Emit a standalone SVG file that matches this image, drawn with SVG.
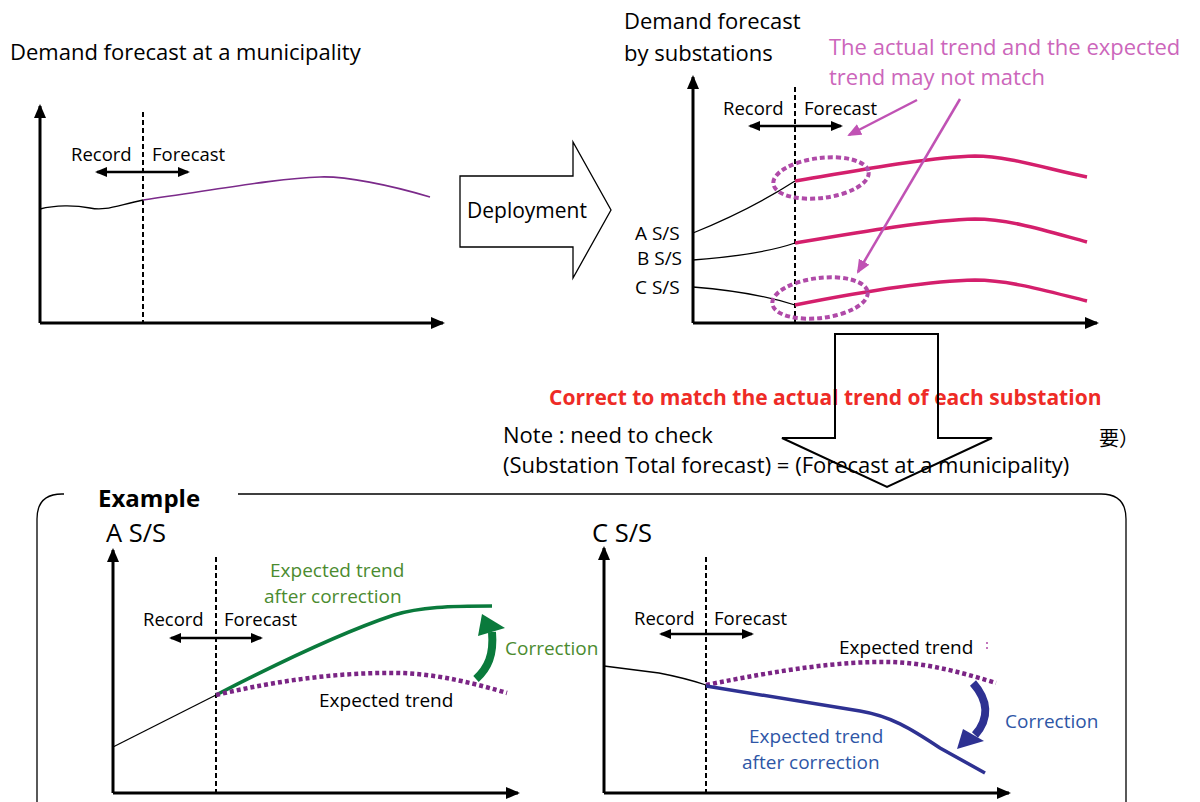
<svg xmlns="http://www.w3.org/2000/svg" width="1200" height="802" viewBox="0 0 1200 802">
<defs>
<marker id="ax" viewBox="0 0 14 12" refX="12" refY="6" markerWidth="14" markerHeight="12" markerUnits="userSpaceOnUse" orient="auto-start-reverse"><path d="M0,0 L14,6 L0,12 z" fill="#000"/></marker>
<marker id="da" viewBox="0 0 12 10" refX="10" refY="5" markerWidth="12" markerHeight="10" markerUnits="userSpaceOnUse" orient="auto-start-reverse"><path d="M0,0 L12,5 L0,10 z" fill="#000"/></marker>
<marker id="pa" viewBox="0 0 14 12" refX="12" refY="6" markerWidth="14" markerHeight="12" markerUnits="userSpaceOnUse" orient="auto"><path d="M0,0 L14,6 L0,12 z" fill="#c052b4"/></marker>
</defs>
<style>
text{font-family:"Open Sans","Liberation Sans","Noto Sans CJK JP",sans-serif;fill:#000}
.t22{font-size:22px}
.t18{font-size:18.5px}
.t19{font-size:19px}
.big{font-size:25.5px}
.axis{stroke:#000;stroke-width:3;fill:none;marker-end:url(#ax)}
.dash{stroke:#000;stroke-width:2;stroke-dasharray:5 3;fill:none}
.dbl{stroke:#000;stroke-width:2.5;fill:none;marker-start:url(#da);marker-end:url(#da)}
.rec{stroke:#000;stroke-width:1.3;fill:none}
.pink{stroke:#d41f6c;stroke-width:3.5;fill:none}
.ell{stroke:#b04aa8;stroke-width:4;stroke-dasharray:5 3;fill:none}
.pl{stroke:#c052b4;stroke-width:2.5;fill:none;marker-end:url(#pa)}
.dot{stroke:#7b2585;stroke-width:4.5;stroke-dasharray:4 3;fill:none}
.pinktxt{fill:#cc66bb}
.green{fill:#4b8b2f}
.blue{fill:#2e56a6}
</style>

<g id="chart-municipality">
<text class="t22" x="10" y="60">Demand forecast at a municipality</text>
<line class="axis" x1="40" y1="323" x2="40" y2="106"/>
<line class="axis" x1="40" y1="323" x2="443" y2="323"/>
<line class="dash" x1="143" y1="112" x2="143" y2="323"/>
<text class="t18" x="71" y="161">Record</text>
<text class="t18" x="152" y="161">Forecast</text>
<line class="dbl" x1="97" y1="172" x2="188" y2="172"/>
<path class="rec" d="M40,209 C55,205 75,205 90,208 C105,211 115,206 143,200"/>
<path d="M143,200 C220,189 280,178 320,177 C345,176 390,185 430,197" stroke="#7b2a8a" stroke-width="1.6" fill="none"/>
</g>

<g id="deployment">
<polygon points="460,176 573,176 573,142 611,210 573,278 573,247 460,247" fill="#fff" stroke="#000" stroke-width="1.3"/>
<text x="467" y="218" style="font-size:21px">Deployment</text>
</g>

<g id="chart-substations">
<text class="t22" x="624" y="29">Demand forecast</text>
<text class="t22" x="624" y="61">by substations</text>
<line class="axis" x1="693" y1="323" x2="693" y2="77"/>
<line class="axis" x1="693" y1="323" x2="1097" y2="323"/>
<line class="dash" x1="795" y1="87" x2="795" y2="323"/>
<text class="t18" x="723" y="115">Record</text>
<text class="t18" x="804" y="115">Forecast</text>
<line class="dbl" x1="750" y1="126" x2="841" y2="126"/>
<text class="t19" x="635" y="240">A S/S</text>
<text class="t19" x="637" y="265">B S/S</text>
<text class="t19" x="635" y="294">C S/S</text>
<path class="rec" d="M693,233 Q750,210 795,181"/>
<path class="rec" d="M693,260 Q760,255 795,243"/>
<path class="rec" d="M693,287 Q755,292 795,305"/>
<path class="pink" d="M795,181 C860,170 930,157 975,156 C1010,156 1050,170 1087,177"/>
<path class="pink" d="M795,243 C860,232 930,220 975,219 C1010,219 1050,232 1087,242"/>
<path class="pink" d="M795,305 C860,292 930,281 975,280 C1010,280 1050,292 1087,301"/>
<ellipse class="ell" cx="821" cy="178" rx="48" ry="20" transform="rotate(-7 821 178)"/>
<ellipse class="ell" cx="820" cy="298" rx="48" ry="20" transform="rotate(-7 820 298)"/>
</g>

<g id="mismatch-note">
<text class="t22 pinktxt" x="829" y="55">The actual trend and the expected</text>
<text class="t22 pinktxt" x="829" y="85">trend may not match</text>
<line class="pl" x1="917" y1="100" x2="849" y2="135"/>
<line class="pl" x1="960" y1="99" x2="858" y2="272"/>
</g>

<g id="correction-step">
<text x="549" y="405" style="font-size:21px;font-weight:bold;fill:#ee2b26">Correct to match the actual trend of each substation</text>
<text class="t22" x="503" y="443">Note : need to check</text>
<text x="1099" y="446" style="font-size:20px">要）</text>
<text class="t22" x="503" y="473">(Substation Total forecast) = (Forecast at a municipality)</text>
<polygon points="835,334 938,334 938,438 992,438 887,487 782,438 835,438" fill="none" stroke="#000" stroke-width="2"/>
</g>

<g id="example-box">
<path d="M64,494 L62,494 Q37,494 37,519 L37,818" fill="none" stroke="#000" stroke-width="1.3"/>
<path d="M238,494 L1101,494 Q1126,494 1126,519 L1126,818" fill="none" stroke="#000" stroke-width="1.3"/>
<text x="98" y="507" style="font-size:24px;font-weight:bold">Example</text>
</g>

<g id="example-a">
<text class="big" x="106" y="542">A S/S</text>
<line class="axis" x1="113" y1="793" x2="113" y2="550"/>
<line class="axis" x1="113" y1="793" x2="518" y2="793"/>
<line class="dash" x1="216" y1="557" x2="216" y2="793"/>
<text class="t18" x="143" y="626">Record</text>
<text class="t18" x="224" y="626">Forecast</text>
<line class="dbl" x1="171" y1="638" x2="261" y2="638"/>
<path class="rec" d="M113,747 Q170,718 216,695"/>
<path d="M216,695 C280,662 340,633 394,615 C420,607 450,606 492,606" stroke="#0a7a3c" stroke-width="3.5" fill="none"/>
<path class="dot" d="M216,695 C280,680 340,672 400,673 C440,674 480,685 507,693"/>
<text class="t19 green" x="270" y="577">Expected trend</text>
<text class="t19 green" x="264" y="603">after correction</text>
<text class="t19" x="319" y="707">Expected trend</text>
<text class="t19 green" x="505" y="655">Correction</text>
<path d="M476,679 C488,668 494,655 492,632" stroke="#0a7a3c" stroke-width="8" fill="none"/>
<polygon points="482,614 505,628 478,636" fill="#0a7a3c"/>
</g>

<g id="example-c">
<text class="big" x="592" y="542">C S/S</text>
<line class="axis" x1="604" y1="793" x2="604" y2="548"/>
<line class="axis" x1="604" y1="793" x2="1009" y2="793"/>
<line class="dash" x1="706" y1="557" x2="706" y2="793"/>
<text class="t18" x="634" y="625">Record</text>
<text class="t18" x="714" y="625">Forecast</text>
<line class="dbl" x1="661" y1="634" x2="752" y2="634"/>
<path class="rec" d="M604,666 L659,673 Q685,678 706,685"/>
<path class="dot" d="M706,685 C780,670 840,661 891,662 C930,663 970,675 996,683"/>
<path d="M706,686 L860,711 C890,716 910,728 940,748 L985,773" stroke="#2e3192" stroke-width="3.5" fill="none"/>
<text class="t19" x="839" y="654">Expected trend</text>
<line x1="987" y1="642" x2="987" y2="650" stroke="#b04aa8" stroke-width="1.5" stroke-dasharray="2 3"/>
<text class="t19 blue" x="749" y="743">Expected trend</text>
<text class="t19 blue" x="742" y="769">after correction</text>
<text class="t19 blue" x="1005" y="728">Correction</text>
<path d="M973,683 C988,700 990,718 975,735" stroke="#2e3192" stroke-width="8" fill="none"/>
<polygon points="957,749 963,729 984,741" fill="#2e3192"/>
</g>
</svg>
